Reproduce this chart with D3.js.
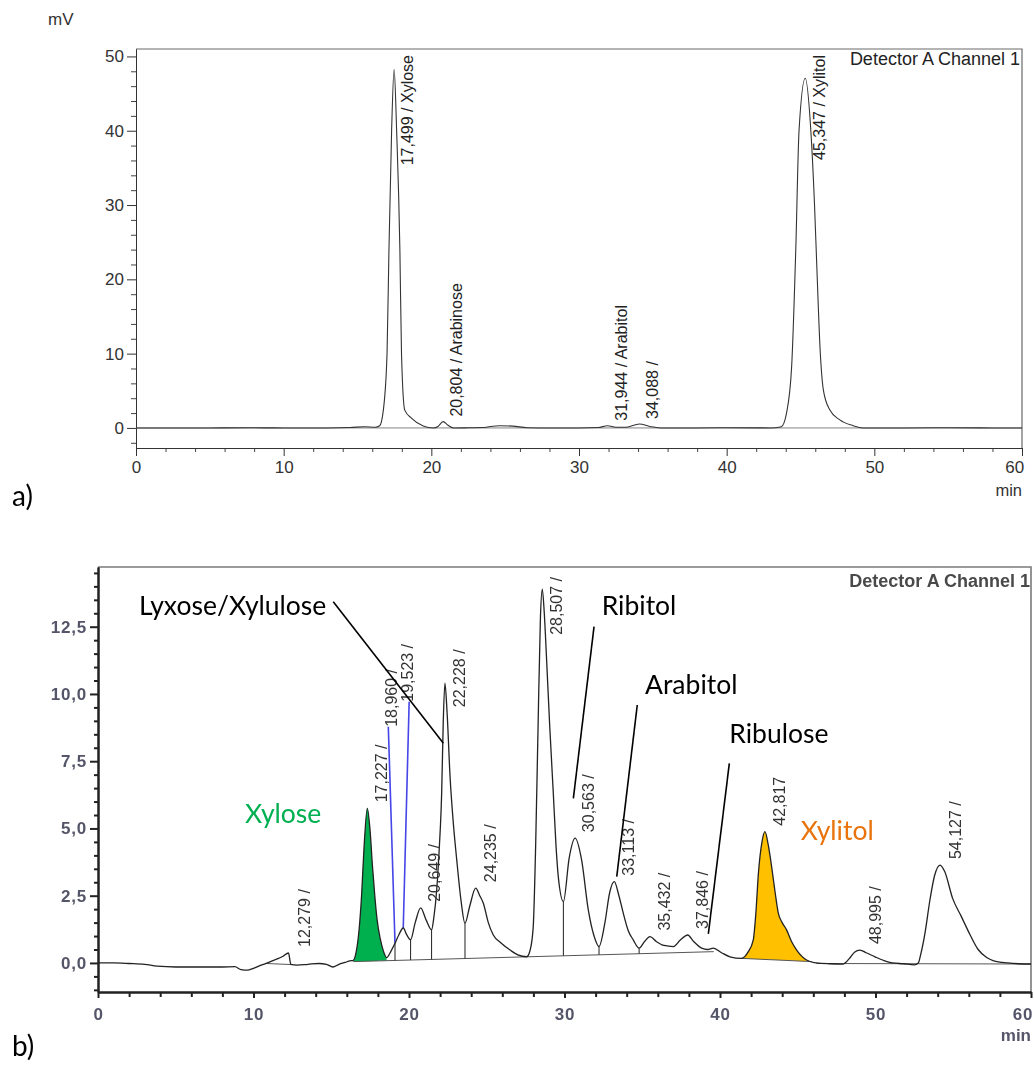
<!DOCTYPE html>
<html>
<head>
<meta charset="utf-8">
<script src="https://cdn.jsdelivr.net/npm/d3@7"></script>
<style>
  html, body { margin: 0; padding: 0; background: #fff; }
  svg { display: block; }
  .ax text { font-family: "Liberation Sans", Arial, sans-serif; }
</style>
</head>
<body>
<svg id="fig" width="1034" height="1065"></svg>
<script>
// ---------- a) standard mixture ----------
const standardTime = [0, 2, 5, 8, 10, 13, 14.5, 15.5, 16.2, 16.5, 16.75, 17.0, 17.13, 17.31, 17.48, 17.65, 17.87, 17.98, 18.2, 18.67, 19.45, 20.13, 20.45, 20.8, 21.1, 21.5, 22.5, 23.5, 24.0, 24.64, 25.5, 26.5, 28, 30, 31.3, 31.94, 32.5, 33.2, 34.09, 34.8, 35.5, 38, 40, 43, 43.7, 44.05, 44.4, 44.68, 44.9, 45.32, 45.7, 45.95, 46.1, 46.33, 46.55, 46.99, 47.66, 48.57, 49.2, 52, 55, 58, 60];
const standardSignal = [0, 0, 0, 0.02, 0, 0, 0.05, 0.17, 0.1, 0.3, 2.4, 10, 24, 40, 48.28, 40, 24, 10, 2.4, 1.3, 0.27, 0, 0.2, 0.85, 0.4, 0, 0.02, 0.05, 0.2, 0.3, 0.25, 0.03, 0, 0, 0.05, 0.3, 0.1, 0.1, 0.54, 0.2, 0, 0, 0.02, 0, 0.17, 1.97, 8.25, 24, 40, 47.07, 40, 30, 22, 10.5, 5.1, 2.4, 1.08, 0.3, 0, 0, 0.02, 0, 0];
const standardPeakTimes = [17.499, 20.804, 31.944, 34.088, 45.347];
const standardPeakNames = ["Xylose", "Arabinose", "Arabitol", "", "Xylitol"];

// ---------- b) hydrolysate sample ----------
const sampleTime = [0, 1, 2, 3, 3.8, 5, 6, 7, 8, 8.8, 9.2, 9.6, 10.0, 10.5, 10.9, 11.4, 11.9, 12.25, 12.4, 12.8, 13.5, 14.2, 14.7, 15.1, 15.5, 15.9, 16.2, 16.42, 16.6, 16.8, 16.95, 17.1, 17.32, 17.5, 17.65, 17.8, 17.95, 18.15, 18.35, 18.56, 18.85, 19.1, 19.35, 19.63, 19.85, 20.1, 20.4, 20.75, 21.1, 21.45, 21.6, 21.78, 21.95, 22.1, 22.2, 22.31, 22.45, 22.64, 22.85, 23.07, 23.35, 23.6, 23.9, 24.29, 24.55, 24.78, 25.1, 25.42, 25.9, 26.5, 27.0, 27.57, 27.8, 27.99, 28.15, 28.3, 28.45, 28.57, 28.7, 28.85, 29.05, 29.28, 29.45, 29.6, 29.93, 30.3, 30.68, 31.1, 31.53, 31.9, 32.22, 32.6, 32.9, 33.2, 33.5, 33.78, 34.1, 34.42, 34.8, 35.15, 35.5, 35.9, 36.4, 37.0, 37.45, 37.92, 38.3, 38.82, 39.2, 39.57, 40.1, 40.64, 41.39, 41.8, 42.14, 42.3, 42.47, 42.7, 42.89, 43.1, 43.32, 43.55, 43.75, 44.0, 44.28, 44.6, 44.93, 45.57, 46.2, 47.0, 47.9, 48.3, 48.65, 49.0, 49.4, 50.0, 50.5, 51.1, 51.8, 52.5, 52.75, 52.9, 53.18, 53.5, 53.8, 54.15, 54.45, 54.96, 55.5, 56.08, 56.6, 57.15, 57.6, 58.5, 59.2, 60];
const sampleSignal = [0, 0, -0.02, -0.05, -0.12, -0.15, -0.15, -0.15, -0.15, -0.14, -0.25, -0.27, -0.2, -0.08, 0, 0.12, 0.25, 0.37, -0.05, -0.08, -0.05, -0.02, -0.05, -0.15, -0.05, 0.02, 0.08, 0.1, 0.4, 1.3, 2.5, 4.2, 5.75, 4.9, 3.6, 2.5, 1.6, 0.9, 0.45, 0.2, 0.45, 0.73, 1.05, 1.3, 1.05, 0.86, 1.5, 2.05, 1.6, 1.23, 1.7, 2.7, 4.3, 6.3, 8.9, 10.4, 9.3, 6.93, 5.2, 3.83, 2.3, 1.47, 2.1, 2.78, 2.5, 2.22, 1.5, 1.04, 0.75, 0.48, 0.3, 0.23, 0.5, 1.35, 4.5, 8.78, 12.8, 13.9, 13.0, 11.26, 8.8, 6.31, 4.4, 3.21, 2.28, 3.9, 4.64, 3.83, 1.97, 1.0, 0.61, 1.5, 2.6, 3.02, 2.5, 1.85, 1.2, 0.86, 0.55, 0.8, 0.98, 0.8, 0.65, 0.61, 0.85, 1.04, 0.8, 0.55, 0.5, 0.55, 0.38, 0.23, 0.17, 0.4, 0.86, 1.8, 3.33, 4.5, 4.88, 4.4, 3.58, 2.6, 1.85, 1.5, 1.23, 0.8, 0.48, 0.11, 0, -0.03, -0.04, 0.15, 0.4, 0.48, 0.38, 0.22, 0.1, 0, -0.03, -0.07, 0, 0.3, 1.1, 2.34, 3.25, 3.64, 3.4, 2.4, 1.75, 1.05, 0.5, 0.2, 0.08, 0, -0.03, -0.04];
const samplePeakTimes = [12.279, 17.227, 20.649, 22.228, 24.235, 28.507, 30.563, 33.113, 35.432, 37.846, 42.817, 48.995, 54.127];
// narrow peaks traced in blue: foot and apex of each
const spikePeakTimes = [18.960, 19.523];
const spikeFootTime = [19.1, 19.63];
const spikeFootSignal = [0.73, 1.3];
const spikeApexTime = [18.67, 20.01];
const spikeApexSignal = [8.78, 9.71];
// integration baselines [t0, v0, t1, v1]
const baselineSegments = [[10.8, -0.02, 12.45, -0.06], [16.42, 0.05, 39.6, 0.42], [41.39, 0.17, 45.9, 0.05], [46.2, -0.02, 60, -0.04]];
// perpendicular drops between unresolved peaks
const dropTimes = [19.1, 20.1, 21.45, 23.6, 29.93, 32.22, 34.8];
// shaded target peaks
const xyloseRange = [16.42, 18.56];
const xylitolRange = [41.39, 45.57];

const axisMinutes = d3.range(0, 61, 10);
const axisMinutesMinor = d3.range(0, 61, 2).filter(v => v % 10 !== 0);
const axisStandardMv = d3.range(0, 51, 10);
const axisStandardMinor = d3.range(-2, 51, 2).filter(v => v % 10 !== 0);
const axisSampleMv = [0, 2.5, 5, 7.5, 10, 12.5];
const axisSampleMinor = d3.range(-1, 14.51, 0.5).filter(v => Math.abs(v / 2.5 - Math.round(v / 2.5)) > 1e-6);

// compound call-outs on panel b (positions in min / mV)
const calloutText = ["Lyxose/Xylulose", "Ribitol", "Arabitol", "Ribulose"];
const calloutAt = [[2.64, 12.95], [32.39, 12.94], [35.18, 10.0], [40.6, 8.17]];
const calloutFrom = [[15.13, 13.43], [31.9, 12.5], [34.68, 9.59], [40.6, 7.42]];
const calloutTo = [[22.21, 8.17], [30.57, 6.12], [33.36, 3.21], [39.25, 1.08]];
const tagText = ["Xylose", "Xylitol"];
const tagAt = [[9.45, 5.19], [45.19, 4.57]];
const tagColor = ["#00b050", "#e9730c"];

// ---------------------------------------------------------------
const svg = d3.select("#fig");
const comma = d3.formatLocale({ decimal: ",", thousands: ".", grouping: [3], currency: ["", ""] });
const fmtTime = comma.format(".3f");
const fmtMv = comma.format(".1f");
const AX_FONT = '"Liberation Sans", Arial, sans-serif';
const NOTE_FONT = 'Lato, "Open Sans", sans-serif';

function interp(ts, vs, t) {
  const i = d3.bisectLeft(ts, t);
  if (i <= 0) return vs[0];
  if (i >= ts.length) return vs[ts.length - 1];
  const f = (t - ts[i - 1]) / (ts[i] - ts[i - 1]);
  return vs[i - 1] + f * (vs[i] - vs[i - 1]);
}
function apexNear(ts, vs, t, w) {
  let m = -Infinity;
  ts.forEach((x, i) => { if (Math.abs(x - t) <= w) m = Math.max(m, vs[i]); });
  return m === -Infinity ? interp(ts, vs, t) : m;
}
// the last minute label sits flush with the axis end
function flushLastTick(sel) {
  sel.selectAll(".tick text").filter(d => d === 60).attr("text-anchor", "end").attr("dx", "0.1em");
}

// ================= panel a =================
const A = { left: 136, right: 1022, top: 49, bottom: 448 };
const xA = d3.scaleLinear().domain([0, 60]).range([A.left, A.right]);
const yA = d3.scaleLinear().domain([-2.7, 51.0]).range([A.bottom, A.top]);
const gA = svg.append("g");

gA.append("path")
  .attr("d", `M${A.left},${A.top}H${A.right}V${A.bottom}`)
  .attr("fill", "none").attr("stroke", "#6a6a6a").attr("stroke-width", 1.2);

function styleAxis(sel, color, font, size, weight, width) {
  sel.attr("class", "ax");
  sel.select(".domain").attr("stroke", color).attr("stroke-width", width);
  sel.selectAll(".tick line").attr("stroke", color).attr("stroke-width", width);
  sel.selectAll(".tick text").attr("fill", color).style("font-family", font)
    .style("font-size", size + "px").style("font-weight", weight);
}

gA.append("g").attr("transform", `translate(0,${A.bottom})`)
  .call(d3.axisBottom(xA).tickValues(axisMinutesMinor).tickSize(4).tickSizeOuter(0).tickFormat(""))
  .call(s => styleAxis(s, "#444", AX_FONT, 17, 400, 1));
gA.append("g").attr("transform", `translate(0,${A.bottom})`)
  .call(d3.axisBottom(xA).tickValues(axisMinutes).tickSize(8).tickSizeOuter(0).tickPadding(5).tickFormat(d3.format("d")))
  .call(s => styleAxis(s, "#333", AX_FONT, 17, 400, 1))
  .call(flushLastTick);
gA.append("g").attr("transform", `translate(${A.left},0)`)
  .call(d3.axisLeft(yA).tickValues(axisStandardMinor).tickSize(5).tickSizeOuter(0).tickFormat(""))
  .call(s => styleAxis(s, "#444", AX_FONT, 17, 400, 1));
gA.append("g").attr("transform", `translate(${A.left},0)`)
  .call(d3.axisLeft(yA).tickValues(axisStandardMv).tickSize(9).tickSizeOuter(0).tickPadding(3).tickFormat(d3.format("d")))
  .call(s => styleAxis(s, "#333", AX_FONT, 17, 400, 1));

// baseline at zero
gA.append("line")
  .attr("x1", xA(0)).attr("x2", xA(60)).attr("y1", yA(0)).attr("y2", yA(0))
  .attr("stroke", "#666").attr("stroke-width", 0.8);

const lineA = d3.line().x((d, i) => xA(standardTime[i])).y((d, i) => yA(standardSignal[i])).curve(d3.curveMonotoneX);
gA.append("path").datum(standardSignal).attr("d", lineA)
  .attr("fill", "none").attr("stroke", "#333").attr("stroke-width", 1.1);

standardPeakTimes.forEach((t, i) => {
  const label = fmtTime(t) + " / " + standardPeakNames[i];
  const txt = gA.append("text").text(label)
    .style("font-family", AX_FONT).style("font-size", "16px").attr("fill", "#222");
  const len = txt.node().getComputedTextLength();
  const apex = apexNear(standardTime, standardSignal, t, 0.5);
  let y0 = yA(apex) - 5;
  if (y0 - len < A.top + 6) y0 = A.top + 6 + len;
  txt.attr("transform", `translate(${xA(t) + 19},${y0}) rotate(-90)`);
});

gA.append("text").text("Detector A Channel 1")
  .attr("x", A.right - 2).attr("y", 65).attr("text-anchor", "end")
  .style("font-family", AX_FONT).style("font-size", "18px").attr("fill", "#222");
gA.append("text").text("mV").attr("x", 48).attr("y", 25)
  .style("font-family", AX_FONT).style("font-size", "17px").attr("fill", "#333");
gA.append("text").text("min").attr("x", A.right).attr("y", 496).attr("text-anchor", "end")
  .style("font-family", AX_FONT).style("font-size", "16.5px").attr("fill", "#333");

// ================= panel b =================
const B = { left: 98, right: 1031, top: 567, bottom: 992 };
const xB = d3.scaleLinear().domain([0, 60]).range([B.left, B.right]);
const yB = d3.scaleLinear().domain([-1.08, 14.72]).range([B.bottom, B.top]);

const defs = svg.append("defs");
defs.append("filter").attr("id", "soft").attr("x", "-5%").attr("y", "-5%").attr("width", "110%").attr("height", "110%")
  .append("feGaussianBlur").attr("stdDeviation", 0.45);

const gB = svg.append("g").attr("filter", "url(#soft)");

gB.append("path")
  .attr("d", `M${B.left},${B.top}H${B.right}V${B.bottom}`)
  .attr("fill", "none").attr("stroke", "#7a7a7a").attr("stroke-width", 1.6);

gB.append("g").attr("transform", `translate(0,${B.bottom})`)
  .call(d3.axisBottom(xB).tickValues(axisMinutesMinor).tickSize(5).tickSizeOuter(0).tickFormat(""))
  .call(s => styleAxis(s, "#222", AX_FONT, 17, 700, 2));
gB.append("g").attr("transform", `translate(0,${B.bottom})`)
  .call(d3.axisBottom(xB).tickValues(axisMinutes).tickSize(6).tickSizeOuter(0).tickPadding(10).tickFormat(d3.format("d")))
  .call(s => styleAxis(s, "#222", AX_FONT, 17, 700, 2))
  .call(flushLastTick);
gB.append("g").attr("transform", `translate(${B.left},0)`)
  .call(d3.axisLeft(yB).tickValues(axisSampleMinor).tickSize(4).tickSizeOuter(0).tickFormat(""))
  .call(s => styleAxis(s, "#222", AX_FONT, 17, 700, 2));
gB.append("g").attr("transform", `translate(${B.left},0)`)
  .call(d3.axisLeft(yB).tickValues(axisSampleMv).tickSize(8).tickSizeOuter(0).tickPadding(3).tickFormat(fmtMv))
  .call(s => styleAxis(s, "#222", AX_FONT, 17, 700, 2));
gB.selectAll(".ax .tick text").attr("fill", "#55556a").style("letter-spacing", "0.8px");

// shaded peaks
function baselineAt(t) {
  for (const s of baselineSegments) {
    if (t >= s[0] - 1e-9 && t <= s[2] + 1e-9) return s[1] + (t - s[0]) / (s[2] - s[0]) * (s[3] - s[1]);
  }
  return 0;
}
function shade(range, color) {
  const idx = sampleTime.map((t, i) => i).filter(i => sampleTime[i] >= range[0] && sampleTime[i] <= range[1]);
  const area = d3.area()
    .x(i => xB(sampleTime[i]))
    .y0(i => yB(baselineAt(sampleTime[i])))
    .y1(i => yB(sampleSignal[i]))
    .curve(d3.curveMonotoneX);
  gB.append("path").datum(idx).attr("d", area).attr("fill", color);
}
shade(xyloseRange, "#00b050");
shade(xylitolRange, "#ffc000");

// integration baselines
gB.selectAll("line.base").data(baselineSegments).join("line").attr("class", "base")
  .attr("x1", d => xB(d[0])).attr("y1", d => yB(d[1]))
  .attr("x2", d => xB(d[2])).attr("y2", d => yB(d[3]))
  .attr("stroke", "#555").attr("stroke-width", 1);

// drop lines
gB.selectAll("line.drop").data(dropTimes).join("line").attr("class", "drop")
  .attr("x1", d => xB(d)).attr("x2", d => xB(d))
  .attr("y1", d => yB(interp(sampleTime, sampleSignal, d)))
  .attr("y2", d => yB(baselineAt(d)))
  .attr("stroke", "#333").attr("stroke-width", 1.1);

// blue narrow peaks
spikePeakTimes.forEach((t, i) => {
  gB.append("line")
    .attr("x1", xB(spikeFootTime[i])).attr("y1", yB(spikeFootSignal[i]))
    .attr("x2", xB(spikeApexTime[i])).attr("y2", yB(spikeApexSignal[i]))
    .attr("stroke", "#4545e8").attr("stroke-width", 1.6);
});

const lineB = d3.line().x((d, i) => xB(sampleTime[i])).y((d, i) => yB(sampleSignal[i])).curve(d3.curveMonotoneX);
gB.append("path").datum(sampleSignal).attr("d", lineB)
  .attr("fill", "none").attr("stroke", "#222").attr("stroke-width", 1.3);

// retention-time labels
function peakLabel(text, xPx, apexPx, extraDown) {
  const txt = gB.append("text").text(text)
    .style("font-family", AX_FONT).style("font-size", "16px").attr("fill", "#333");
  const len = txt.node().getComputedTextLength();
  let y0 = apexPx - 6 + extraDown;
  if (y0 - len < B.top + 10) y0 = B.top + 10 + len;
  txt.attr("transform", `translate(${xPx},${y0}) rotate(-90)`);
}
samplePeakTimes.forEach(t => {
  const apex = apexNear(sampleTime, sampleSignal, t, 0.45);
  const extra = t === 22.228 ? 30 : 0;
  const text = t === 42.817 ? fmtTime(t) : fmtTime(t) + " /";
  peakLabel(text, xB(t) + 21, yB(apex), extra);
});
spikePeakTimes.forEach((t, i) => {
  peakLabel(fmtTime(t) + " /", xB(spikeApexTime[i]) + (i === 0 ? 9 : 4), yB(spikeApexSignal[i]) + 6, 0);
});

gB.append("text").text("Detector A Channel 1")
  .attr("x", B.right - 1).attr("y", 587).attr("text-anchor", "end")
  .style("font-family", AX_FONT).style("font-size", "18px").style("font-weight", 700)
  .attr("fill", "#4a4a4a");
gB.append("text").text("min").attr("x", B.right).attr("y", 1041).attr("text-anchor", "end")
  .style("font-family", AX_FONT).style("font-size", "17px").style("font-weight", 700).attr("fill", "#55556a");

// ================= annotations (crisp) =================
const gN = svg.append("g");
calloutText.forEach((s, i) => {
  gN.append("text").text(s)
    .attr("x", xB(calloutAt[i][0])).attr("y", yB(calloutAt[i][1]))
    .style("font-family", NOTE_FONT).style("font-size", "26.5px").attr("fill", "#000");
  gN.append("line")
    .attr("x1", xB(calloutFrom[i][0])).attr("y1", yB(calloutFrom[i][1]))
    .attr("x2", xB(calloutTo[i][0])).attr("y2", yB(calloutTo[i][1]))
    .attr("stroke", "#000").attr("stroke-width", 1.6);
});
tagText.forEach((s, i) => {
  gN.append("text").text(s)
    .attr("x", xB(tagAt[i][0])).attr("y", yB(tagAt[i][1]))
    .style("font-family", NOTE_FONT).style("font-size", "26.5px").attr("fill", tagColor[i]);
});

svg.append("text").text("a)").attr("x", 12).attr("y", 506)
  .style("font-family", NOTE_FONT).style("font-size", "28px").attr("fill", "#000");
svg.append("text").text("b)").attr("x", 12).attr("y", 1056)
  .style("font-family", NOTE_FONT).style("font-size", "28px").attr("fill", "#000");
</script>
</body>
</html>
